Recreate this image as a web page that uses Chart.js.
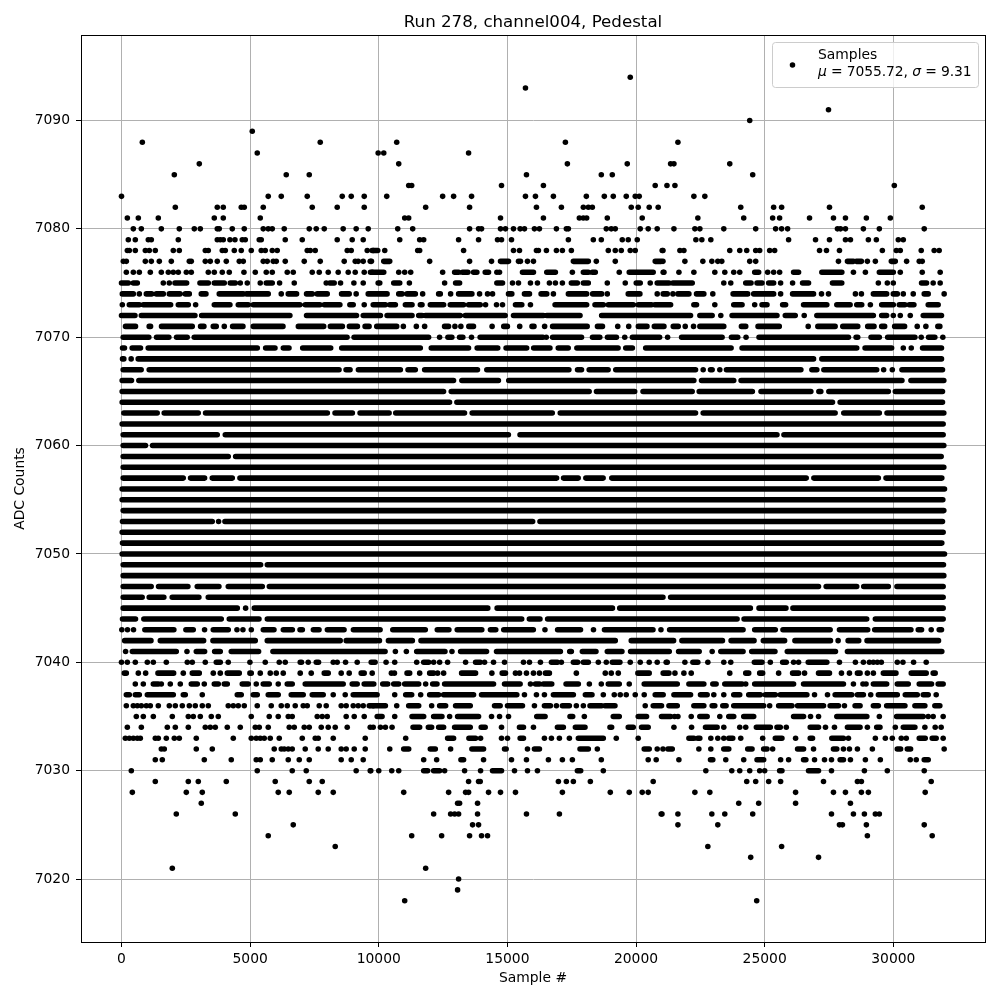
<!DOCTYPE html>
<html><head><meta charset="utf-8">
<style>html,body{margin:0;padding:0;background:#fff}canvas{display:block}</style>
<script src="https://cdn.jsdelivr.net/npm/chart.js@4"></script></head>
<body><canvas id="c" width="1000" height="1000"></canvas>
<script>
// Each row is one ADC level. A number is a single sample;
// a pair [a,b] is a stretch of samples so dense that they merge into a bar.
const row7094=[19775];
const row7093=[15702];
const row7091=[27481];
const row7090=[24419];
const row7089=[5083];
const row7088=[810,7725,10698,17254,21628];
const row7087=[5277,9977,10194,13491];
const row7086=[3024,10776,17331,19659,21344,21473,23643];
const row7085=[2053,6404,7298,15741,18650,19077,24535];
const row7084=[11164,11280,14771,16400,20745,21202,21512,30039];
const row7083=[0,5704,6210,7220,8580,8930,9435,10310,12483,12909,13607,15702,16090,16788,18068,18767,19115,19620,19969,20124,22248,22674];
const row7082=[2092,3723,3956,4655,4772,5510,7414,8385,9435,11823,13530,16129,17099,17952,18146,18301,19814,20085,20512,20861,24070,25349,25659,27519,31124];
const row7081=[227,654,1431,3607,3956,5394,11008,11163,14732,16400,17797,17950,18081,18883,20240,22403,24186,25310,25581,26744,27674,28140,28953,29884];
const row7080=[460,771,1548,2247,2830,3063,3723,3800,4306,4772,5510,5704,5860,6326,7298,7570,7881,8617,9122,9590,10737,11319,13530,13879,13995,14732,14926,15237,15495,15663,16051,16245,16905,17292,17370,18844,19037,19193,20163,20473,20823,21473,22287,22481,23411,24651,25426,25659,25891,27829,27946,28140,28837,29457,31202];
const row7079=[265,537,1042,1159,2208,3723,3840,3956,4215,4410,4694,4811,5355,5432,6365,7026,8385,8968,9396,10815,11590,11746,13103,13879,14616,14771,15159,17370,18340,18650,19465,19697,20047,22326,22558,22907,25930,26977,27519,28140,28334,29031,29341,30194,30388];
const row7078=[227,304,537,926,1081,1314,2014,2247,3257,3374,3917,4034,4384,4655,5044,5432,5588,5860,6054,7220,7337,7531,8774,8930,9551,9784,[9741,9961],10233,11513,11590,13297,15237,15470,16129,16206,16517,16905,17137,17486,18922,19193,19426,19775,19969,21016,21047,21705,21860,23643,24031,24302,24651,24806,25194,25388,27132,27403,27907,29574,30116,30271,31085,31589,31783];
const row7077=[71,188,926,1159,1470,1936,2636,2713,3257,3451,3723,4073,4578,4733,5510,5665,5899,6016,6365,7103,7725,8657,9085,9200,9396,9668,9716,[10194,10427],11978,13530,14383,[14732,15043],15431,15508,15780,16013,[17564,18146],18456,19193,[20745,20978],21047,21899,22597,22946,23178,23333,24419,24651,27868,[28217,28450],[28566,28760],28992,29302,[29922,30078],30517,31008,31124];
const row7076=[188,460,693,1120,1548,1820,2014,2208,2520,2713,3374,3607,3917,4189,4760,5200,5627,5860,6443,6676,7414,7686,8036,8424,8813,9085,9435,9745,[9677,10194],10776,11008,11241,12483,[12948,13103],[13258,13465],[13685,13814],[14138,14267],14590,14693,[15586,16013],[16530,16866],17525,[17952,18146],[18301,18417],19348,[19736,20667],21055,21085,21667,22248,23062,23450,23798,24031,[24612,24767],25116,25349,25581,[26124,26318],[27222,28000],28450,28915,[29457,30000],30271,31124,31822];
const row7075=[[0,265],[460,615],1625,1858,[2079,2532],[3050,3374],[3607,3995],[4228,4423],4617,4889,5393,[5627,5860],6145,6715,7958,[8100,8268],8515,9033,9396,9977,10039,[10582,10815],11190,12560,[12987,13142],[14590,14810],15198,15431,15896,16168,16633,16866,17137,[17486,17719],[17952,18146],18883,19581,[20008,20163],20551,[20823,21279],[21434,22184],23411,23682,[24264,24470],[24703,24897],[25155,25349],25620,26085,[26473,26705],[27635,27997],29419,29767,30000,[31098,31292],31550,31822];
const row7074=[[32,460],693,[965,1172],[1353,1625],[1858,2273],[2480,2636],[3101,3283],[3800,4733],[4862,5704],6210,[6482,6805],[7193,7414],[7608,7997],[8554,8851],9122,[9590,10323],[10776,10905],[11099,11422],11706,[12327,12392],12793,[13103,13620],13918,14228,14422,[15043,15172],[15663,15858],[16310,16530],16788,[17370,18081],[18314,18663],18883,[19697,20150],20823,[21055,21214],21434,[21628,22055],[22351,22636],22984,[23773,24341],[24574,25349],25620,[26085,26899],27209,27481,28527,28760,[29225,29742],[30000,30155],30388,30775,[31202,31357],31977];
const row7073=[32,[304,693],[848,1910],[2208,2597],2882,[3607,4215],[4539,4927],[5122,6935],[7142,7712],[7881,8489],[8877,9007],9435,[9784,10258],[10427,10646],[11034,11293],[11616,11681],[12004,12521],[12780,13297],[13491,13944],14151,14577,14810,[15314,15560],15896,[16853,18081],[18405,18728],[18922,19892],[20085,20602],[20732,21344],[22248,22351],23062,[23798,24121],24612,[24897,25090],[25698,25814],[26512,27416],[27804,28321],[28579,28773],29108,[29548,30000],[30232,30452],[30620,30801],[31357,31744]];
const row7072=[[0,524],[771,2855],[3115,6546],[7193,9136],[9396,10065],[10323,11293],[11552,11681],[11810,13168],[13362,14913],[15237,16400],[16530,17823],[18663,22119],[22481,22959],23295,[23733,25478],[25801,26188],26537,[27028,29225],[29548,29742],30000,30271,30659,[31163,31873]];
const row7071=[[156,545],[1076,1130],[1556,2750],[3074,3204],[3567,3683],3995,[4319,4721],[5123,6277],[6874,7860],[8119,8586],[8858,9170],[9468,9624],[9922,10698],10956,11460,11783,[12558,12713],12959,13191,[13501,13682],14406,[14858,15000],15478,[15956,16034],16447,[16757,18101],[18501,18695],19289,19716,[20090,20426],[20711,21085],[21447,21641],21912,22235,[22481,23411],[24096,24264],[24742,25568],26692,[27067,27739],[28036,28618],[29005,29251],[29548,29664],[30052,30439],30930,31266,[31731,31809]];
const row7070=[[65,1063],[1362,1842],[2140,2555],[2827,8768],[9040,11938],12364,[12687,12842],[13140,13269],13605,[13940,16382],16512,[16757,17881],[18308,18592],[18889,19238],19561,[19858,20917],21227,[21770,23346],[23708,23954],24276,[24780,28256],[28553,28618],[29134,29457],[29780,30840],31085,[31370,31615],31925];
const row7069=[[40,117],[415,739],[1038,5279],[5603,5966],[6290,6511],[7043,8132],[8560,11615],[12041,13489],[13824,14625],[14948,15749],[16021,16654],[16977,17364],[17700,19302],[19600,19858],[20375,23695],[24121,28579],[28902,29935],30388,30698,[31137,31873]];
const row7068=[[40,91],376,[649,26900],[27222,31873]];
const row7067=[[65,765],[1076,8456],[8728,8884],[9208,10840],[11137,11421],[11783,13837],[14199,17390],[17726,17881],[18178,18915],[19212,22313],22610,[22894,22959],23256,[23514,26408],[26835,27028],[27300,29354],29625,29961,[30336,31912]];
const row7066=[[26,389],[674,12907],[13230,14651],[15052,22248],[22545,23798],[24083,30336],[30685,31964]];
const row7065=[[26,12519],[12817,18178],[18462,19948],[20271,22183],[22455,24522],[24858,26796],[27106,27183],[27494,29806],[30078,31912]];
const row7064=[[26,12752],[13036,27636],[27933,31912]];
const row7063=[[92,1388],[1660,2983],[3268,8002],[8300,8974],[9273,10402],[10660,13333],[13630,16744],[17054,22313],[22610,27739],[28075,29457],[29755,31964]];
const row7062=[[26,31938]];
const row7061=[[65,3722],[4034,15039],[15491,25478],[25749,31938]];
const row7060=[[65,934],[1206,31964]];
const row7059=[[65,4150],[4436,31861]];
const row7058=[[65,31964]];
const row7057=[[65,2400],[2685,3230],[3528,4306],[4604,16912],[17183,17752],[18049,18721],[19057,26615],[26912,29419],[29716,31886]];
const row7056=[[26,31990]];
const row7055=[[26,31925]];
const row7054=[[65,31964]];
const row7053=[[39,3528],3774,[4020,15982],[16266,31912]];
const row7052=[[26,31938]];
const row7051=[[39,31886]];
const row7050=[[26,31990]];
const row7049=[[65,5408],[5668,31950]];
const row7048=[[65,31964]];
const row7047=[[65,1154],[1440,2581],[2944,3787],[4150,5473],[5746,27093],[27390,28579],[28850,29806],[30142,31938]];
const row7046=[[65,804],[1076,1647],[1971,3009],[3372,21047],[21344,31938]];
const row7045=[[65,4501],4825,[5162,14238],[14600,19083],[19367,24444],[24780,25827],[26098,31938]];
const row7044=[[39,545],[869,3878],[4189,5344],[5668,15556],[15853,16266],[16563,23928],[24199,28966],[29302,31938]];
const row7043=[13,233,467,[908,2036],[2503,2789],3229,[3567,4150],4488,4721,5045,[5512,5927],[6290,6641],[6939,7030],[7458,7678],[8002,8651],[9014,10052],[10545,11809],[12274,12726],[13049,14005],[14341,14548],[14858,16008],16460,[16951,17842],18346,[18773,20659],20969,[21305,24160],[24612,25413],[25711,27545],[27907,29005],[29277,30685],[30969,31098],31473,[31783,31873]];
const row7042=[[123,1146],[1509,3192],[3555,5199],[5666,8502],[8734,9926],10026,[10375,11306],[11642,19193],[19814,21460],[21783,23359],[23695,24587],[24948,25775],[26176,27558],27855,[28243,28656],[28979,31757]];
const row7041=[160,[421,2130],2545,[2907,3231],[3620,3840],[4267,5329],[5886,10246],10646,11073,[11474,12573],12845,[13181,14189],[14577,17060],[17422,17486],[17913,18443],[18883,19452],[19788,21292],[21654,22455],22959,[23295,24160],[24496,25400],[25879,27752],[28217,31886]];
const row7040=[0,227,537,1004,1237,1742,2558,2752,3257,[3684,3840],4150,4992,5588,6132,6365,[6947,6999],7258,[7570,7660],8230,8385,8709,9162,[9706,9858],10284,10620,11474,[11746,11940],12133,12366,12676,13375,[13763,13944],14112,14461,14888,15625,15858,16284,[16711,16944],17098,[17564,17732],[17952,18146],18534,18844,[19077,19374],19775,20163,20512,20823,21171,21214,21899,[22209,22403],22791,23411,23682,[24599,24897],25220,[25698,25840],26124,26318,[26693,27417],27907,28527,28837,29070,29225,29380,29535,30155,30375,30788,31279];
const row7039=[[110,188],654,939,[1418,2027],2402,[2752,3024],3568,3840,[4112,4578],[4992,5044],5393,5782,6016,6287,6947,7375,[7881,8036],8540,8851,[9317,9434],9745,10491,10608,[11099,11202],11590,[11978,12133],12288,12521,[13220,13763],14396,[14797,14926],15314,15470,15741,16013,16245,[16478,16633],17680,18805,19037,19310,[20072,20512],[21055,21279],21512,21860,22145,23643,[24264,24380],[24806,24922],25543,[26085,26318],26550,[27093,27519],27985,28295,[28605,28708],28992,29225,[29613,30103],[30698,31279],[31550,31628]];
const row7038=[537,848,[1237,1431],1548,1897,2285,[2713,2946],3218,[3607,3762],[3995,4112],[4694,4927],5238,[5510,5743],6093,[6443,6637],[7142,8618],[8968,9162],[9434,9806],[10155,10349],[10582,10776],[11008,11552],11823,[12095,12263],[12560,14461],[14888,15495],15896,[16090,16245],[16400,16724],[17280,17758],18185,18650,[18922,19348],19736,[20318,21602],[22055,22636],[22984,23113],[23450,24121],24264,[24612,26124],[26512,28062],28450,28820,28941,[29225,29742],[30155,30581],[31008,31486],[31744,31938]];
const row7037=[[188,304],[537,693],[1004,2014],[2402,2480],3140,[4500,4655],[5122,5277],[5704,6093],[6598,7064],[7414,7841],8230,8696,[9007,9935],10620,[11047,11280],11629,[11978,12327],[12521,13685],[13995,15366],15663,16129,16439,[16788,17564],[18030,18288],18728,19154,19387,19619,19969,20318,[20745,21055],[21473,22119],[22506,22765],23023,23411,[23798,24031],[24380,24832],[25026,25413],[25607,26641],26938,27442,[27739,28385],[28605,28837],29122,[29419,30155],[30465,30931],[31163,31357],31667];
const row7036=[188,460,615,771,965,1120,1431,1858,2092,2363,2636,2868,3140,3374,4150,4345,4539,4772,5277,5821,6210,6443,6753,7064,7220,7686,7958,8540,8734,9007,9201,9396,9629,9784,[9677,10258],10698,[11163,11552],12056,[12366,12599],[12986,13556],[14500,14719],[15004,15586],16051,[16439,16672],16905,[17137,17409],17680,17952,[18211,18663],[18793,19181],20357,[20668,20991],[21279,21602],[22248,22636],[22959,23062],[23372,23501],[23798,24961],25194,[25543,26060],[26279,27287],[27545,27868],28101,[28514,28708],[29225,29419],[29742,30452],[30840,31227],[31615,31809]];
const row7035=[576,848,1237,1975,2597,2791,3063,3490,3762,5044,5743,6093,6482,6637,7608,7803,7997,8734,9046,9435,9940,[10000,10129],10620,[11293,11746],[12133,12456],12754,[13064,13879],14383,14694,15043,[16141,16465],[17434,17538],17990,[19115,19348],[20085,20409],[20991,21344],21499,21628,22145,[22480,22765],23256,[23605,23798],[24186,24574],[26124,26512],26783,27093,[27804,28972],29457,[30129,31163],31357,31550,31938];
const row7034=[227,771,1781,2092,2597,3257,3451,3646,4112,4617,5200,5355,5704,6520,6715,7103,7298,7764,8036,8308,8774,9668,9784,10065,10258,10517,[11332,11590],[11927,12056],[12327,12521],[12948,13556],[13982,14137],14771,[15469,15625],16013,[16944,17176],[17642,18017],[18987,19052],[19697,19892],[20214,20473],21473,22158,[22700,23152],23411,24031,24264,[24677,25220],[25478,25607],25840,[26770,27093],27364,27713,[28217,28708],28992,[29354,29483],30078,[30388,30840],31227,31628,31860];
const row7033=[149,304,460,615,732,1314,1431,1742,2053,2247,2907,4345,5044,5238,5394,5549,5782,6132,7026,7531,7647,8230,9474,11047,[12676,12909],[13504,13763],13957,14771,15004,[15495,15625],16439,16711,17021,17409,[17758,18728],19232,20085,[22055,22248],[22403,22480],22907,23178,23411,[23605,23760],24070,24922,[25413,25672],26202,[26770,26860],[27610,28062],28256,29302,29690,29961,30310,30504,[31008,31241],[31512,31667],31938];
const row7032=[1548,1664,2907,3529,5937,6210,6326,6482,6637,7142,7647,8036,8540,8734,9046,9474,10427,[10970,11164],[12004,12198],12793,[13620,14073],[14888,14952],15780,[16051,16245],[17823,18146],18495,[20318,20512],20823,21047,[21240,21408],22442,22907,[23411,23605],[24341,24509],[24961,25090],25310,[26279,26512],26899,[27674,27804],28062,28295,28605,29186,[30155,30284],[30543,30672],31977];
const row7031=[1314,1586,3218,4267,5238,5394,5860,6482,6909,7298,8540,8930,9396,11746,12250,[13194,13297],14073,15159,15741,16594,17137,17525,18650,20473,20784,21666,[22894,22984],23488,24186,[24703,24961],25620,25930,[26512,26602],26938,27326,27597,[27933,28062],28333,28915,29496,30659,30892,[31202,31357]];
const row7030=[382,5277,6637,7181,9122,9668,9690,10000,10504,10776,[11746,11900],[12133,12366],12560,13336,13957,[14422,14771],15276,15780,16168,[17720,17849],18728,22713,23721,24031,24419,24806,25000,[25581,25672],[26705,27093],27597,28876,29767,31202];
const row7029=[1314,2597,2985,4073,5976,7298,7803,13491,13879,13944,16982,17292,17564,18224,20667,24302,24651,25155,25620,27287,28605,28760,31473];
const row7028=[421,2519,3140,6093,6520,7647,8230,10970,12715,13375,13491,14267,14732,15314,17137,18999,19736,20240,20473,22287,22868,26202,27674,28140,28760,29031,31240];
const row7027=[3101,13064,13142,13840,23992,24767,26202,28333];
const row7026=[2130,4423,12133,12793,12950,13103,13840,15741,17021,20978,21008,21628,22946,23450,24535,27597,28450,28876,29302,29457];
const row7025=[6676,13646,13879,21628,23178,27907,28023,28953,31202];
const row7024=[5704,11280,12444,13530,13995,14228,28992,31512];
const row7023=[8308,22791,25659];
const row7022=[24457,27093];
const row7021=[1975,11823];
const row7020=[13103];
const row7019=[13064];
const row7018=[11008,24690];

const levels=[7094,7093,7091,7090,7089,7088,7087,7086,7085,7084,7083,7082,7081,7080,7079,7078,7077,7076,7075,7074,7073,7072,7071,7070,7069,7068,7067,7066,7065,7064,7063,7062,7061,7060,7059,7058,7057,7056,7055,7054,7053,7052,7051,7050,7049,7048,7047,7046,7045,7044,7043,7042,7041,7040,7039,7038,7037,7036,7035,7034,7033,7032,7031,7030,7029,7028,7027,7026,7025,7024,7023,7022,7021,7020,7019,7018];
const rows=[row7094,row7093,row7091,row7090,row7089,row7088,row7087,row7086,row7085,row7084,row7083,row7082,row7081,row7080,row7079,row7078,row7077,row7076,row7075,row7074,row7073,row7072,row7071,row7070,row7069,row7068,row7067,row7066,row7065,row7064,row7063,row7062,row7061,row7060,row7059,row7058,row7057,row7056,row7055,row7054,row7053,row7052,row7051,row7050,row7049,row7048,row7047,row7046,row7045,row7044,row7043,row7042,row7041,row7040,row7039,row7038,row7037,row7036,row7035,row7034,row7033,row7032,row7031,row7030,row7029,row7028,row7027,row7026,row7025,row7024,row7023,row7022,row7021,row7020,row7019,row7018];
const xTicks=[0,5000,10000,15000,20000,25000,30000];
const yTicks=[7020,7030,7040,7050,7060,7070,7080,7090];
const titleText="Run 278, channel004, Pedestal";
const xLabel="Sample #";
const yLabel="ADC Counts";
const seriesName="Samples";
const meanValue="7055.72";
const sigmaValue="9.31";

const pts=[],bars=[];
rows.forEach((row,i)=>row.forEach(e=>{
  if(Array.isArray(e)){bars.push({x:e[0],y:levels[i]},{x:e[1],y:levels[i]},{x:e[1],y:null});}
  else pts.push({x:e,y:levels[i]});
}));
const FONT='"DejaVu Sans"';
const frame={id:'frame',afterDraw(ch){
  const c=ch.ctx,a=ch.chartArea;
  c.save();
  c.strokeStyle='#000';c.lineWidth=1;
  c.strokeRect(Math.round(a.left)+.5,Math.round(a.top)+.5,Math.round(a.right-a.left),Math.round(a.bottom-a.top));
  // legend
  const bx=772.5,by=42.5,bw=206,bh=45;
  c.beginPath();c.roundRect(bx,by,bw,bh,3);
  c.fillStyle='rgba(255,255,255,0.8)';c.fill();
  c.strokeStyle='#cccccc';c.stroke();
  c.fillStyle='#000';
  c.beginPath();c.arc(792.5,65,2.78,0,Math.PI*2);c.fill();
  c.textAlign='left';c.textBaseline='alphabetic';
  const sz='13.89px '+FONT,it='italic 13.89px '+FONT;
  c.font=sz;c.fillText(seriesName,818,59);
  let x=818;const y=76;
  c.letterSpacing='-0.1px';
  const run=(t,f)=>{c.font=f;c.fillText(t,x,y);x+=c.measureText(t).width;};
  run('\u03bc',it);run(' = '+meanValue+', ',sz);run('\u03c3',it);run(' = '+sigmaValue,sz);
  c.restore();
}};
new Chart(document.getElementById('c'),{
  type:'scatter',
  data:{datasets:[
    {label:seriesName,data:pts,pointRadius:2.78,pointHoverRadius:2.78,pointBackgroundColor:'#000',pointBorderWidth:0,showLine:false},
    {label:seriesName+' (merged)',data:bars,showLine:true,spanGaps:false,borderColor:'#000',borderWidth:5.56,borderCapStyle:'round',pointRadius:0,tension:0}
  ]},
  options:{
    responsive:false,animation:false,
    layout:{padding:{left:0,right:15,top:0,bottom:0}},
    plugins:{
      legend:{display:false},tooltip:{enabled:false},
      title:{display:true,fullSize:false,text:titleText,color:'#000',font:{family:FONT,size:16.67,weight:'normal',lineHeight:1.2},padding:{top:13,bottom:2}}
    },
    scales:{
      x:{type:'linear',min:-1574,max:33564,
        afterFit(s){s.height=58;},
        afterBuildTicks(s){s.ticks=xTicks.map(v=>({value:v}));},
        grid:{color:'#b0b0b0',lineWidth:1,tickColor:'#000',tickLength:5},
        border:{color:'#000'},
        ticks:{color:'#000',font:{family:FONT,size:13.89},padding:4,maxRotation:0,callback:v=>String(v)},
        title:{display:true,text:xLabel,color:'#000',font:{family:FONT,size:13.89},padding:{top:3,bottom:13}}},
      y:{type:'linear',min:7014.19,max:7097.89,
        afterFit(s){s.width=81;},
        afterBuildTicks(s){s.ticks=yTicks.map(v=>({value:v}));},
        grid:{color:'#b0b0b0',lineWidth:1,tickColor:'#000',tickLength:5},
        border:{color:'#000'},
        ticks:{color:'#000',font:{family:FONT,size:13.89},padding:6,callback:v=>String(v)},
        title:{display:true,text:yLabel,color:'#000',font:{family:FONT,size:13.89},padding:{top:12,bottom:0}}}
    }
  },
  plugins:[frame]
});
</script></body></html>
